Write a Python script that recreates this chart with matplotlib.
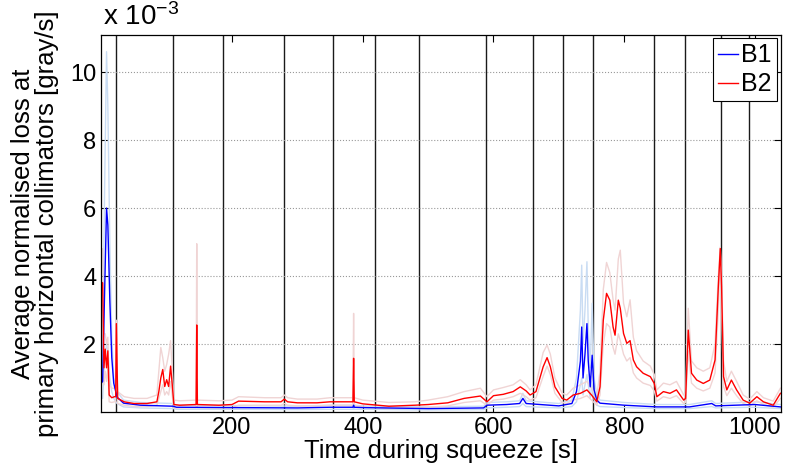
import numpy as np
import matplotlib
matplotlib.use("Agg")
import matplotlib.pyplot as plt

# Fonts (Helvetica-like, MATLAB look)
plt.rcParams['font.family'] = ['Liberation Sans', 'DejaVu Sans']
plt.rcParams['mathtext.fontset'] = 'custom'
plt.rcParams['mathtext.rm'] = 'Liberation Sans'
plt.rcParams['mathtext.it'] = 'Liberation Sans'

# Data, loss values in units of 1e-3 gray/s
# B2 (red): time, mean, upper and lower envelope
t_b2 = [0, 2, 4, 6, 8, 10, 12, 16, 20, 22,
        23, 25, 35, 50, 70, 85, 88, 91, 94, 97,
        100, 103, 106, 109, 111, 120, 145, 146, 147, 180,
        200, 210, 250, 275, 280, 285, 300, 330, 350, 385,
        386, 387, 400, 440, 480, 500, 530, 555, 580, 590,
        600, 615, 630, 641, 650, 656, 665, 676, 682, 687,
        694, 705, 712, 722, 733, 743, 750, 758, 763, 768,
        773, 778, 783, 786, 791, 794, 799, 804, 809, 814,
        819, 829, 840, 846, 850, 860, 870, 880, 891, 894,
        898, 903, 911, 921, 931, 939, 944, 947, 949, 952,
        957, 964, 972, 982, 992, 1003, 1013, 1028, 1039]
b2_mean = [3.82, 3.8, 1.3, 1.85, 1.3, 1.8, 0.5, 0.42, 0.45, 0.45,
           2.6, 0.4, 0.3, 0.25, 0.25, 0.3, 0.6, 1.0, 1.25, 0.75,
           0.95, 0.75, 1.35, 0.7, 0.22, 0.2, 0.22, 2.56, 0.22, 0.2,
           0.22, 0.32, 0.3, 0.3, 0.38, 0.3, 0.27, 0.27, 0.3, 0.3,
           1.58, 0.3, 0.24, 0.17, 0.2, 0.22, 0.27, 0.4, 0.47, 0.3,
           0.48, 0.52, 0.6, 0.74, 0.62, 0.5, 0.6, 1.33, 1.6, 1.33,
           0.74, 0.4, 0.35, 0.5, 0.55, 0.65, 0.5, 0.3, 0.74, 2.7,
           3.49, 3.29, 2.5, 2.26, 3.29, 3.05, 2.31, 2.02, 2.1, 1.53,
           1.33, 1.14, 1.04, 0.84, 0.45, 0.6, 0.55, 0.65, 0.35, 0.4,
           2.41, 1.14, 0.94, 0.84, 0.94, 1.53, 3.68, 4.81, 3.68, 1.04,
           0.65, 0.94, 0.65, 0.35, 0.26, 0.45, 0.3, 0.2, 0.55]
b2_upper = [4.8, 4.8, 2.3, 2.3, 2.0, 2.2, 0.8, 0.7, 0.7, 0.7,
            2.7, 0.6, 0.45, 0.4, 0.4, 0.5, 1.2, 1.9, 1.6, 1.2,
            1.4, 1.7, 2.1, 1.1, 0.35, 0.33, 0.35, 4.95, 0.35, 0.33,
            0.35, 0.45, 0.42, 0.42, 0.5, 0.42, 0.38, 0.38, 0.42, 0.42,
            2.9, 0.42, 0.35, 0.28, 0.3, 0.35, 0.45, 0.6, 0.7, 0.45,
            0.65, 0.72, 0.8, 0.95, 0.8, 0.65, 0.8, 1.75, 1.97, 1.7,
            1.0, 0.55, 0.5, 0.7, 0.8, 0.9, 0.7, 0.45, 1.2, 3.6,
            4.4, 4.1, 3.3, 3.0, 4.5, 4.76, 3.2, 2.8, 3.3, 2.2,
            1.8, 1.5, 1.35, 1.1, 0.65, 0.85, 0.8, 0.9, 0.5, 0.55,
            3.05, 1.5, 1.3, 1.2, 1.3, 2.0, 4.0, 4.85, 4.0, 1.5,
            0.9, 1.2, 0.9, 0.5, 0.38, 0.6, 0.42, 0.32, 0.7]
b2_lower = [2.3, 2.2, 0.8, 1.2, 0.9, 1.3, 0.3, 0.28, 0.3, 0.3,
            2.4, 0.25, 0.2, 0.16, 0.16, 0.2, 0.4, 0.6, 0.8, 0.5,
            0.6, 0.5, 0.9, 0.4, 0.12, 0.12, 0.13, 0.8, 0.13, 0.12,
            0.13, 0.2, 0.2, 0.2, 0.25, 0.2, 0.18, 0.18, 0.2, 0.2,
            0.9, 0.2, 0.15, 0.1, 0.12, 0.14, 0.18, 0.28, 0.33, 0.2,
            0.35, 0.38, 0.45, 0.55, 0.45, 0.35, 0.42, 1.05, 1.35, 1.1,
            0.55, 0.28, 0.25, 0.35, 0.4, 0.48, 0.35, 0.2, 0.5, 2.0,
            2.6, 2.5, 1.9, 1.7, 2.3, 2.1, 1.7, 1.5, 1.6, 1.15,
            1.0, 0.85, 0.78, 0.62, 0.32, 0.45, 0.4, 0.48, 0.25, 0.28,
            1.8, 0.85, 0.7, 0.62, 0.7, 1.15, 3.0, 4.7, 3.0, 0.75,
            0.48, 0.7, 0.48, 0.25, 0.18, 0.33, 0.22, 0.14, 0.4]

# B1 (blue): time, mean, upper and lower envelope
t_b1 = [0, 2, 5, 8, 10, 13, 16, 19, 24, 34,
        60, 110, 115, 200, 300, 350, 385, 386, 387, 400,
        500, 585, 590, 620, 640, 645, 650, 700, 720, 727,
        733, 735, 737, 740, 743, 745, 748, 751, 754, 758,
        763, 800, 850, 900, 934, 940, 1000, 1039]
b1_mean = [0.85, 0.9, 3.5, 6.0, 5.5, 3.3, 1.6, 0.85, 0.44, 0.26,
           0.2, 0.17, 0.14, 0.13, 0.12, 0.14, 0.14, 0.2, 0.14, 0.13,
           0.1, 0.12, 0.2, 0.22, 0.25, 0.4, 0.25, 0.18, 0.25, 0.6,
           1.5, 2.5, 1.0, 1.7, 2.6, 1.5, 0.74, 1.67, 0.65, 0.35,
           0.26, 0.2, 0.15, 0.15, 0.25, 0.18, 0.22, 0.15]
b1_upper = [1.0, 1.5, 6.5, 10.6, 9.0, 5.0, 2.2, 1.0, 0.6, 0.35,
            0.28, 0.25, 0.2, 0.19, 0.17, 0.2, 0.2, 0.3, 0.2, 0.18,
            0.15, 0.17, 0.28, 0.3, 0.33, 0.55, 0.33, 0.25, 0.35, 1.0,
            3.0, 4.32, 2.0, 3.0, 4.42, 2.5, 1.3, 3.2, 1.0, 0.5,
            0.35, 0.28, 0.22, 0.22, 0.33, 0.25, 0.3, 0.22]
b1_lower = [0.5, 0.4, 1.5, 2.0, 1.8, 1.0, 0.6, 0.4, 0.25, 0.15,
            0.12, 0.1, 0.08, 0.08, 0.07, 0.08, 0.08, 0.12, 0.08, 0.08,
            0.06, 0.07, 0.12, 0.14, 0.16, 0.25, 0.16, 0.12, 0.16, 0.3,
            0.8, 1.0, 0.5, 0.8, 1.1, 0.8, 0.4, 0.9, 0.35, 0.2,
            0.16, 0.13, 0.1, 0.1, 0.16, 0.12, 0.14, 0.1]

# Squeeze step markers [s]
events = [23, 110, 186, 280, 354, 418, 486, 589, 660, 706, 753, 845, 893, 948, 991]

x_ticks = [200, 400, 600, 800, 1000]
y_ticks = [2, 4, 6, 8, 10]

# Figure
fig = plt.figure(figsize=(7.86, 4.70), dpi=100)
ax = fig.add_axes([0.1289, 0.1234, 0.8644, 0.8028])

# Event lines
for ev in events:
	ax.axvline(ev, color='0.1', lw=1.0, zorder=1)

# Envelopes
ax.plot(t_b1, b1_upper, color='#c9dcf3', lw=1.0, zorder=2)
ax.plot(t_b1, b1_lower, color='#c9dcf3', lw=1.0, zorder=2)
ax.plot(t_b2, b2_upper, color='#f0d4d4', lw=1.0, zorder=2)
ax.plot(t_b2, b2_lower, color='#f0d4d4', lw=1.0, zorder=2)

# Mean lines
ax.plot(t_b1, b1_mean, color='#0000ff', lw=1.0, zorder=3, label='B1')
ax.plot(t_b2, b2_mean, color='#ff0000', lw=1.0, zorder=3, label='B2')

# Axes style
ax.set_xlim(0, 1039.5)
ax.set_ylim(0, 11.1)
ax.set_xticks(x_ticks)
ax.set_yticks(y_ticks)
ax.tick_params(direction='in', length=5, width=0.8, top=True, right=True, labelsize=17)
ax.yaxis.grid(True, linestyle=':', color='0.6', lw=0.8)
for sp in ax.spines.values():
	sp.set_linewidth(0.9)
	sp.set_zorder(5)

ax.set_xlabel('Time during squeeze [s]', fontsize=18.5, labelpad=0)
ax.set_ylabel('Average normalised loss at\nprimary horizontal collimators [gray/s]',
	fontsize=18.5, linespacing=1.02)
ax.yaxis.set_label_coords(-0.062, 0.5)

# Exponent label
ax.text(0.002, 1.01, r'x 10$^{-3}$', transform=ax.transAxes, fontsize=20, ha='left', va='bottom')

# Legend
leg = ax.legend(loc='upper right', fontsize=18, handlelength=0.78, handletextpad=0.15,
	borderpad=0.2, labelspacing=0.2, borderaxespad=0.15, fancybox=False, framealpha=1)
leg.get_frame().set_edgecolor('black')
leg.get_frame().set_linewidth(0.8)

fig.savefig('out.png', dpi=100)
